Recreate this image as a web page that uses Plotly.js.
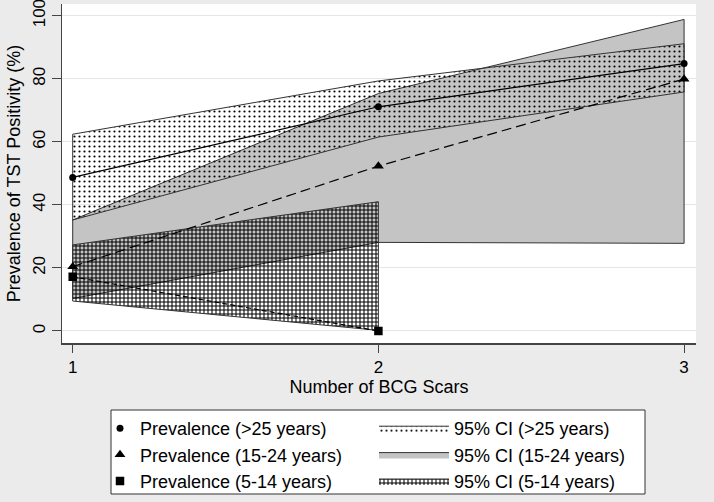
<!DOCTYPE html>
<html>
<head>
<meta charset="utf-8">
<script src="https://cdn.plot.ly/plotly-3.0.1.min.js"></script>
<style>html,body{margin:0;padding:0;background:#ebebeb;}#chart{width:714px;height:502px;}</style>
</head>
<body>
<div id="chart"></div>
<script>
// ---- data ----
const bcgScars = [1, 2, 3];
const bcgScarsChild = [1, 2];
const prevAdult = [48.7, 71.1, 84.8];
const ciAdultLow = [35.2, 61.5, 75.8];
const ciAdultHigh = [62.4, 79.3, 91.1];
const prevYouth = [20.4, 52.3, 79.9];
const ciYouthLow = [10.3, 28.1, 27.8];
const ciYouthHigh = [35.2, 75.3, 98.8];
const prevChild = [17.2, 0.0];
const ciChildLow = [9.5, 0.2];
const ciChildHigh = [27.3, 41.0];
const prevNames = ['Prevalence (>25 years)', 'Prevalence (15-24 years)', 'Prevalence (5-14 years)'];
const ciNames = ['95% CI (>25 years)', '95% CI (15-24 years)', '95% CI (5-14 years)'];
const xTickVals = [1, 2, 3];
const yTickVals = [0, 20, 40, 60, 80, 100];

const FONT = 'Liberation Sans, Arial, sans-serif';
const EDGE = '#333333';

function band(x, lo, hi) {
  const xr = x.slice().reverse(), lr = lo.slice().reverse();
  return {
    x: x.concat(xr).concat([x[0]]),
    y: hi.concat(lr).concat([hi[0]])
  };
}

const bY = band(bcgScars, ciYouthLow, ciYouthHigh);
const bA = band(bcgScars, ciAdultLow, ciAdultHigh);
const bC = band(bcgScarsChild, ciChildLow, ciChildHigh);

const traces = [
  { x: bY.x, y: bY.y, type: 'scatter', mode: 'lines', fill: 'toself',
    fillcolor: '#c4c4c4', line: {color: EDGE, width: 1},
    name: ciNames[1], legend: 'legend2', legendrank: 2, hoverinfo: 'skip' },
  { x: bA.x, y: bA.y, type: 'scatter', mode: 'lines', fill: 'toself',
    fillcolor: 'rgba(0,0,0,0)', line: {color: EDGE, width: 1},
    fillpattern: {shape: '.', size: 5, solidity: 0.15, fgcolor: '#000', bgcolor: 'rgba(0,0,0,0)', fgopacity: 1},
    name: ciNames[0], legend: 'legend2', legendrank: 1, hoverinfo: 'skip' },
  { x: bC.x, y: bC.y, type: 'scatter', mode: 'lines', fill: 'toself',
    fillcolor: 'rgba(0,0,0,0)', line: {color: EDGE, width: 1},
    fillpattern: {shape: '+', size: 4, solidity: 0.45, fgcolor: '#000', bgcolor: 'rgba(0,0,0,0)', fgopacity: 1},
    name: ciNames[2], legend: 'legend2', legendrank: 3, hoverinfo: 'skip' },
  { x: bcgScars, y: prevAdult, type: 'scatter', mode: 'lines',
    line: {color: '#000', width: 1.2}, showlegend: false },
  { x: bcgScars, y: prevYouth, type: 'scatter', mode: 'lines',
    line: {color: '#000', width: 1.2, dash: '10px,5px'}, showlegend: false },
  { x: bcgScarsChild, y: prevChild, type: 'scatter', mode: 'lines',
    line: {color: '#000', width: 1.2, dash: '5px,3px'}, showlegend: false },
  { x: bcgScars, y: prevAdult, type: 'scatter', mode: 'markers', cliponaxis: false,
    marker: {symbol: 'circle', size: 7, color: '#000'}, name: prevNames[0], legend: 'legend', legendrank: 1 },
  { x: bcgScars, y: prevYouth, type: 'scatter', mode: 'markers', cliponaxis: false,
    marker: {symbol: 'triangle-up', size: 9.5, color: '#000'}, name: prevNames[1], legend: 'legend', legendrank: 2 },
  { x: bcgScarsChild, y: prevChild, type: 'scatter', mode: 'markers', cliponaxis: false,
    marker: {symbol: 'square', size: 8.5, color: '#000'}, name: prevNames[2], legend: 'legend', legendrank: 3 }
];

const M = {l: 62, r: 18, t: 4, b: 159};
const PW = 714 - M.l - M.r, PH = 502 - M.t - M.b;
const px2x = p => (p - M.l) / PW;
const py2y = p => (502 - M.b - p) / PH;

const legendCommon = {
  orientation: 'v', xanchor: 'left', yanchor: 'top',
  bgcolor: 'rgba(0,0,0,0)', borderwidth: 0,
  font: {family: FONT, size: 18, color: '#000'}, traceorder: 'normal'
};

const layout = {
  width: 714, height: 502,
  margin: {l: M.l, r: M.r, t: M.t, b: M.b, autoexpand: false},
  paper_bgcolor: '#ebebeb', plot_bgcolor: '#ffffff',
  font: {family: FONT, size: 18, color: '#000'},
  xaxis: {
    range: [0.965, 3.039], tickvals: xTickVals, ticktext: xTickVals.map(String),
    showgrid: false, zeroline: false, showline: true, linecolor: '#444', linewidth: 1.5,
    ticks: 'outside', ticklen: 8, tickwidth: 1, tickcolor: '#444',
    tickfont: {family: FONT, size: 17, color: '#000'}, ticklabeloverflow: 'allow',
    title: {text: 'Number of BCG Scars', font: {family: FONT, size: 18, color: '#000'}, standoff: 2}
  },
  yaxis: {
    range: [-3.81, 103.7], tickvals: yTickVals, ticktext: yTickVals.map(String),
    showgrid: true, gridcolor: '#e6e6e6', gridwidth: 1, zeroline: false,
    showline: true, linecolor: '#444', linewidth: 1.5,
    ticks: 'outside', ticklen: 9, tickwidth: 1, tickcolor: '#444', tickangle: -90,
    tickfont: {family: FONT, size: 17, color: '#000'}, ticklabeloverflow: 'allow',
    title: {text: 'Prevalence of TST Positivity (%)', font: {family: FONT, size: 18, color: '#000'}, standoff: 4}
  },
  legend: Object.assign({}, legendCommon, {x: px2x(100), y: py2y(410), itemwidth: 30}),
  legend2: Object.assign({}, legendCommon, {x: px2x(374), y: py2y(410), itemwidth: 70}),
  shapes: [{
    type: 'rect', xref: 'paper', yref: 'paper', layer: 'below',
    x0: px2x(111), x1: px2x(645), y0: py2y(494), y1: py2y(410),
    fillcolor: '#ffffff', line: {color: '#333', width: 1}
  }],
  showlegend: true
};

Plotly.newPlot('chart', traces, layout, {displayModeBar: false, staticPlot: true});
</script>
</body>
</html>
